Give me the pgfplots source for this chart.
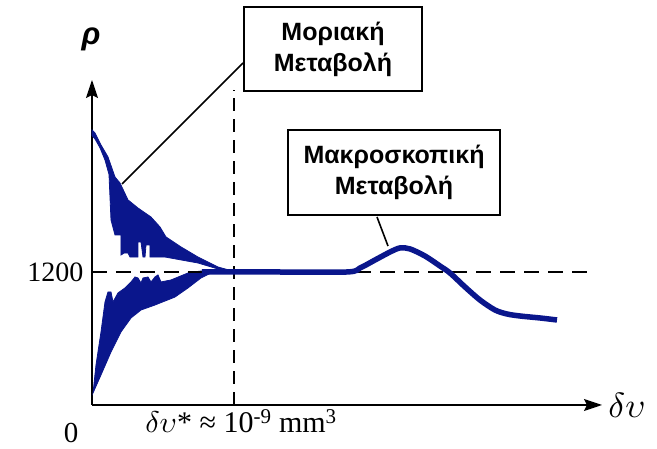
\documentclass[border=0pt]{standalone}
\usepackage{graphicx}
\usepackage{pgfplots}
\pgfplotsset{compat=1.18}
\usepackage{fontspec}
\setmainfont{Liberation Serif}
\newfontfamily\greeksans{Liberation Sans}
\usetikzlibrary{arrows.meta}
\definecolor{blobblue}{RGB}{10,22,140}
\begin{document}
\begin{tikzpicture}
\useasboundingbox (0,0) rectangle (657pt,449pt);
\begin{axis}[
  at={(92pt,44pt)}, anchor=origin,
  scale only axis, width=510pt, height=325pt,
  xmin=0, xmax=510, ymin=0, ymax=2932,
  axis lines=left,
  axis line style={line width=1.5pt, -{Stealth[length=18pt,width=12pt,inset=3pt]}},
  xtick={142}, xticklabels={\scalebox{3}{\normalsize$\delta\upsilon$}* ≈ 10\textsuperscript{-9} mm\textsuperscript{3}},
  ytick={1200}, yticklabels={\mbox{\fontsize{28}{28}\selectfont 1200}},
  major tick length=0pt,
  xticklabel style={font=\fontsize{30}{30}\selectfont, xshift=7pt, yshift=-1pt},
  yticklabel style={font=\fontsize{28}{28}\selectfont, xshift=-5pt},
  clip=false,
]
% molecular fluctuation blobs
\addplot[fill=blobblue, draw=blobblue, line width=0.8pt] coordinates {
(0,2481)(3,2454)(9,2346)(16,2238)(23,2057)(28,2003)(36,1850)(46,1777)(59,1696)(68,1606)(74,1516)(89,1426)(106,1335)(126,1245)(140,1210)(140,1200)
(126,1227)(106,1281)(73,1335)(58,1335)(58,1444)(54,1444)(53,1335)(51,1335)(49,1471)(46,1471)(46,1335)(38,1335)(36,1371)(32,1371)(29,1353)(29,1534)(23,1534)(19,1669)(17,2080)(13,2210)(8,2320)(3,2400)(0,2430)
} -- cycle;
\addplot[fill=blobblue, draw=blobblue, line width=0.8pt] coordinates {
(1,108)(9,271)(19,478)(29,659)(39,785)(49,857)(63,902)(83,974)(96,1056)(109,1146)(119,1191)(135,1195)
(109,1209)(96,1191)(79,1128)(69,1110)(66,1173)(63,1155)(59,1110)(56,1155)(51,1146)(49,1101)(46,1146)(43,1155)(39,1110)(33,1056)(26,1011)(21,929)(19,1020)(16,1020)(13,929)(9,659)(4,361)(1,108)
} -- cycle;
% dashed reference lines
\addplot[black, line width=1.5pt, dash pattern=on 15pt off 9pt] coordinates {(0,1200)(503,1200)};
\addplot[black, line width=1.5pt, dash pattern=on 13pt off 8pt] coordinates {(142,0)(142,2842)};
% main curve
\addplot[blobblue, line width=5.5pt, smooth, tension=0.5] coordinates {
(110,1200)(180,1200)(255,1200)(268,1236)(283,1308)(298,1380)(308,1417)(318,1408)(333,1344)(348,1254)(358,1191)(373,1065)(388,947)(403,857)(415,821)(428,803)(448,785)(465,767)
};
\end{axis}
\path (91pt,410pt) node[font=\greeksans\bfseries\itshape\fontsize{31}{31}\selectfont] {ρ};
\path (627pt,44pt) node {\scalebox{3.5}{\normalsize$\delta\upsilon$}};
\path (71pt,16pt) node[font=\fontsize{29}{29}\selectfont] {0};
\draw[line width=1.6pt] (243pt,386pt) -- (122pt,265pt);
\draw[line width=1.6pt] (377pt,232pt) -- (388pt,203pt);
\path (333pt,400pt) node[draw, line width=1.8pt, fill=white, minimum width=178pt, minimum height=84pt, align=center,
      font=\greeksans\bfseries\fontsize{25}{31}\selectfont] {Μοριακή\\Μεταβολή};
\path (394pt,276.5pt) node[draw, line width=1.8pt, fill=white, minimum width=212pt, minimum height=85pt, align=center,
      font=\greeksans\bfseries\fontsize{25}{31}\selectfont] {Μακροσκοπική\\Μεταβολή};
\end{tikzpicture}
\end{document}
